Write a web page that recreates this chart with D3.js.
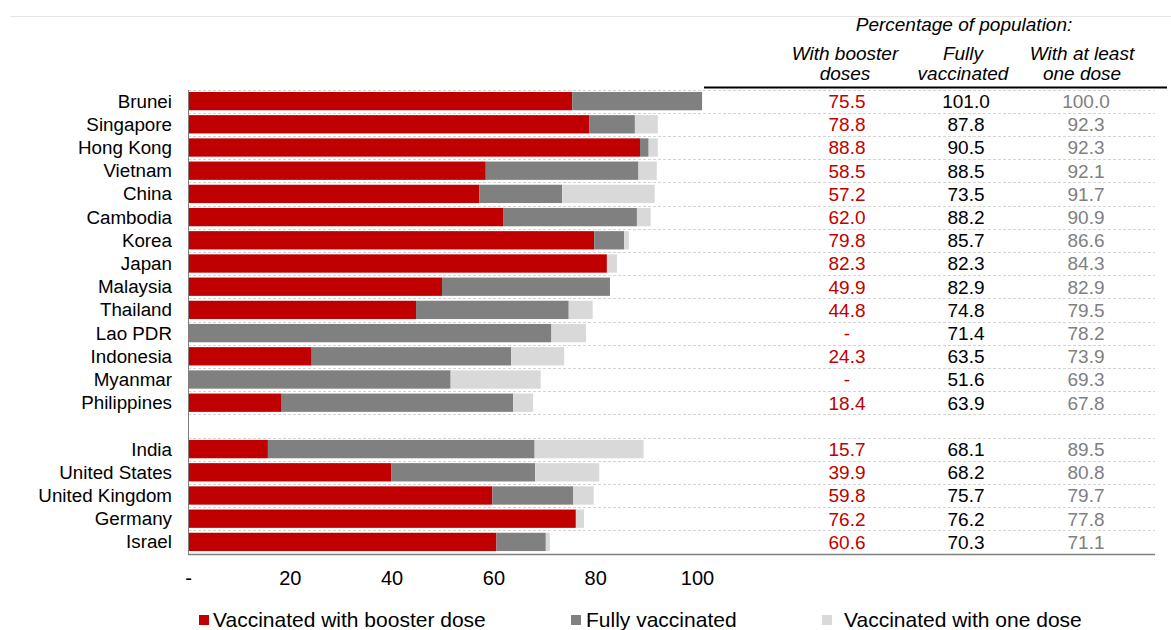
<!DOCTYPE html>
<html>
<head>
<meta charset="utf-8">
<script src="https://cdn.jsdelivr.net/npm/d3@7"></script>
<style>
  html, body { margin: 0; padding: 0; background: #fff; }
  svg { display: block; font-family: "Liberation Sans", Arial, sans-serif; }
</style>
</head>
<body>
<svg id="chart" width="1171" height="630"></svg>
<script>
// ---------------- DATA ----------------
const countries = ["Brunei", "Singapore", "Hong Kong", "Vietnam", "China", "Cambodia", "Korea", "Japan",
  "Malaysia", "Thailand", "Lao PDR", "Indonesia", "Myanmar", "Philippines",
  "India", "United States", "United Kingdom", "Germany", "Israel"];
const groupBreakAfter = "Philippines";
const booster = [75.5, 78.8, 88.8, 58.5, 57.2, 62.0, 79.8, 82.3, 49.9, 44.8, null, 24.3, null, 18.4,
  15.7, 39.9, 59.8, 76.2, 60.6];
const fully = [101.0, 87.8, 90.5, 88.5, 73.5, 88.2, 85.7, 82.3, 82.9, 74.8, 71.4, 63.5, 51.6, 63.9,
  68.1, 68.2, 75.7, 76.2, 70.3];
const oneDose = [100.0, 92.3, 92.3, 92.1, 91.7, 90.9, 86.6, 84.3, 82.9, 79.5, 78.2, 73.9, 69.3, 67.8,
  89.5, 80.8, 79.7, 77.8, 71.1];
const xTicks = [0, 20, 40, 60, 80, 100];
const xTickLabels = ["-", "20", "40", "60", "80", "100"];
const seriesNames = ["Vaccinated with booster dose", "Fully vaccinated", "Vaccinated with one dose"];
const tableTitle = "Percentage of population:";
const columnHeaders = [["With booster", "doses"], ["Fully", "vaccinated"], ["With at least", "one dose"]];

// ---------------- STYLE ----------------
const colors = ["#C00000", "#808080", "#D9D9D9"];
const textColors = ["#C00000", "#000000", "#808080"];

const svg = d3.select("#chart");

// slots with a gap row after the break
const slots = [];
countries.forEach(c => { slots.push(c); if (c === groupBreakAfter) slots.push("__gap"); });

const x = d3.scaleLinear().domain([0, 100]).range([188, 697]);
const y = d3.scaleBand().domain(slots).range([89.5, 553.5]).paddingInner(0.2).paddingOuter(0.1);
const step = y.step();

const rows = countries.map((c, i) => ({
  country: c,
  booster: booster[i],
  fully: fully[i],
  oneDose: oneDose[i]
}));

// top thin line
svg.append("line").attr("x1", 10).attr("x2", 1171).attr("y1", 16.5).attr("y2", 16.5)
  .attr("stroke", "#e6e6e6").attr("stroke-width", 1);

// dashed row separators
const boundaries = [];
slots.forEach((s, i) => { boundaries.push(89.5 + i * step); });
svg.append("g").selectAll("line").data(boundaries).join("line")
  .attr("x1", 188).attr("x2", 1155)
  .attr("y1", d => Math.round(d) + 0.5).attr("y2", d => Math.round(d) + 0.5)
  .attr("stroke", "#d4d4d4").attr("stroke-width", 1).attr("stroke-dasharray", "3,2");

// bars
const segs = [];
rows.forEach(r => {
  const b = r.booster == null ? 0 : r.booster;
  segs.push({ country: r.country, x0: 0, x1: b, k: 0 });
  segs.push({ country: r.country, x0: b, x1: r.fully, k: 1 });
  if (r.oneDose > r.fully) segs.push({ country: r.country, x0: r.fully, x1: r.oneDose, k: 2 });
});
svg.append("g").selectAll("rect").data(segs.filter(s => s.x1 > s.x0)).join("rect")
  .attr("x", d => x(d.x0))
  .attr("width", d => x(d.x1) - x(d.x0))
  .attr("y", d => y(d.country) + (y.bandwidth() - step * 0.79) / 2)
  .attr("height", step * 0.79)
  .attr("fill", d => colors[d.k]);

// axes lines
svg.append("line").attr("x1", 188.5).attr("x2", 188.5).attr("y1", 90).attr("y2", 554)
  .attr("stroke", "#7f7f7f").attr("stroke-width", 1);
svg.append("line").attr("x1", 188).attr("x2", 1155).attr("y1", 554.5).attr("y2", 554.5)
  .attr("stroke", "#7f7f7f").attr("stroke-width", 1.5);

// country labels
svg.append("g").selectAll("text").data(countries).join("text")
  .attr("x", 172)
  .attr("y", d => y(d) + y.bandwidth() / 2)
  .attr("dy", "0.35em")
  .attr("text-anchor", "end")
  .attr("font-size", 18.8)
  .attr("fill", "#000")
  .text(d => d);

// x axis tick labels
const xAxis = d3.axisBottom(x).tickValues(xTicks).tickSize(0).tickPadding(0)
  .tickFormat((d, i) => xTickLabels[i]);
const gx = svg.append("g").attr("transform", "translate(0,571)").call(xAxis);
gx.select(".domain").remove();
gx.selectAll("text").attr("font-size", 20).attr("fill", "#000")
  .attr("font-family", "'Liberation Sans', Arial, sans-serif");

// table
const colX = [847, 966, 1086];
const tableVals = [booster, fully, oneDose];
tableVals.forEach((vals, k) => {
  svg.append("g").selectAll("text").data(rows).join("text")
    .attr("x", colX[k])
    .attr("y", d => y(d.country) + y.bandwidth() / 2)
    .attr("dy", "0.36em")
    .attr("text-anchor", "middle")
    .attr("font-size", 19)
    .attr("fill", textColors[k])
    .text((d, i) => vals[i] == null ? "-" : d3.format(".1f")(vals[i]));
});

// table headers
svg.append("text").attr("x", 964).attr("y", 31).attr("text-anchor", "middle")
  .attr("font-size", 19).attr("font-style", "italic").attr("fill", "#000").text(tableTitle);
const hdrX = [845, 963, 1082];
columnHeaders.forEach((lines, k) => {
  lines.forEach((t, j) => {
    svg.append("text").attr("x", hdrX[k]).attr("y", 60 + j * 20).attr("text-anchor", "middle")
      .attr("font-size", 19).attr("font-style", "italic").attr("fill", "#000").text(t);
  });
});
svg.append("line").attr("x1", 704).attr("x2", 1167).attr("y1", 87.5).attr("y2", 87.5)
  .attr("stroke", "#000").attr("stroke-width", 2);

// legend
const legX = [199, 571, 822];
const legTextOff = [14, 15, 22];
const leg = svg.append("g").selectAll("g").data(seriesNames).join("g")
  .attr("transform", (d, i) => `translate(${legX[i]},620)`);
leg.append("rect").attr("x", 0).attr("y", -5).attr("width", 10).attr("height", 10)
  .attr("fill", (d, i) => colors[i]);
leg.append("text").attr("x", (d, i) => legTextOff[i]).attr("y", 0).attr("dy", "0.35em")
  .attr("font-size", 21).attr("fill", "#000").text(d => d);
</script>
</body>
</html>
